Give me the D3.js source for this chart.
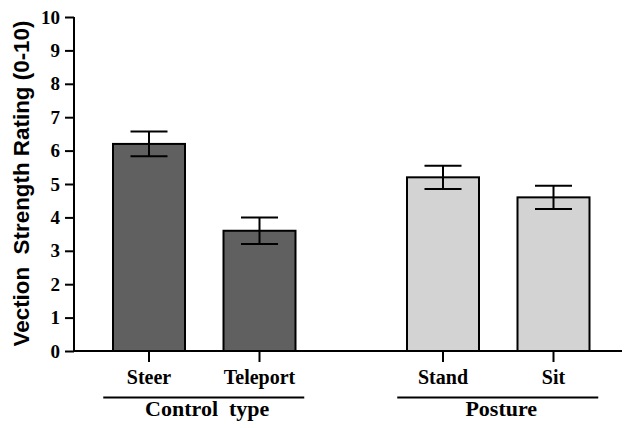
<!DOCTYPE html>
<html>
<head>
<meta charset="utf-8">
<script src="https://cdn.jsdelivr.net/npm/d3@7"></script>
<style>
  html, body { margin: 0; padding: 0; background: #fff; }
  svg { display: block; }
</style>
</head>
<body>
<svg id="chart" width="625" height="428"></svg>
<script>
// ---- data ----
const groups = ["Control type", "Posture"];
const categories = ["Steer", "Teleport", "Stand", "Sit"];
const categoryGroup = ["Control type", "Control type", "Posture", "Posture"];
const means = [6.2, 3.6, 5.2, 4.6];
const errors = [0.37, 0.4, 0.35, 0.35];
const barColors = ["#606060", "#606060", "#d3d3d3", "#d3d3d3"];
const yTicks = [0, 1, 2, 3, 4, 5, 6, 7, 8, 9, 10];
const yTitle = "Vection\u00a0\u00a0Strength Rating (0-10)";

// ---- layout ----
const SERIF = "Liberation Serif";
const SANS = "Liberation Sans";
const svg = d3.select("#chart");
const yAxisX = 74, baseY = 351, topY = 17, axisRight = 622;

const y = d3.scaleLinear().domain([0, 10]).range([baseY, topY]);
const xGroup = d3.scaleBand().domain(groups).range([57.25, 645.25]);
const xInner = d3.scalePoint().domain([0, 1]).range([-55.25, 55.25]);
const barW = 72, capW = 37;

const data = categories.map((c, i) => ({
  cat: c, group: categoryGroup[i], mean: means[i], err: errors[i], color: barColors[i],
  idx: categoryGroup.slice(0, i).filter(g => g === categoryGroup[i]).length
}));
const cx = d => xGroup(d.group) + xGroup.bandwidth() / 2 + xInner(d.idx);

// bars
svg.selectAll("rect.bar").data(data).enter().append("rect")
  .attr("x", d => cx(d) - barW / 2)
  .attr("y", d => y(d.mean))
  .attr("width", barW)
  .attr("height", d => y(0) - y(d.mean))
  .attr("fill", d => d.color)
  .attr("stroke", "#000")
  .attr("stroke-width", 2);

// error bars
const eb = svg.selectAll("g.err").data(data).enter().append("g")
  .attr("stroke", "#000").attr("stroke-width", 2);
eb.append("line").attr("x1", cx).attr("x2", cx)
  .attr("y1", d => y(d.mean + d.err)).attr("y2", d => y(d.mean - d.err));
eb.append("line").attr("x1", d => cx(d) - capW / 2).attr("x2", d => cx(d) + capW / 2)
  .attr("y1", d => y(d.mean + d.err)).attr("y2", d => y(d.mean + d.err));
eb.append("line").attr("x1", d => cx(d) - capW / 2).attr("x2", d => cx(d) + capW / 2)
  .attr("y1", d => y(d.mean - d.err)).attr("y2", d => y(d.mean - d.err));

// y axis
const yAxis = d3.axisLeft(y).tickValues(yTicks).tickSize(9).tickPadding(5).tickSizeOuter(0);
const gy = svg.append("g").attr("transform", `translate(${yAxisX},0)`).call(yAxis)
  .attr("font-family", SERIF).attr("font-size", 19).attr("font-weight", "bold");
gy.select(".domain").attr("stroke-width", 2).attr("d", `M0,${baseY}V${topY}`);
gy.selectAll(".tick line").attr("stroke-width", 2);
gy.selectAll(".tick text").attr("fill", "#000");

// x axis line
svg.append("line").attr("x1", yAxisX - 1).attr("x2", axisRight)
  .attr("y1", baseY).attr("y2", baseY).attr("stroke", "#000").attr("stroke-width", 2);

// x ticks and labels
svg.selectAll("line.xt").data(data).enter().append("line")
  .attr("x1", cx).attr("x2", cx).attr("y1", baseY).attr("y2", baseY + 11)
  .attr("stroke", "#000").attr("stroke-width", 2);
svg.selectAll("text.xl").data(data).enter().append("text")
  .attr("x", cx).attr("y", 384).attr("text-anchor", "middle")
  .attr("font-family", SERIF).attr("font-weight", "bold").attr("font-size", 20)
  .text(d => d.cat);

// group lines and labels
const gc = g => xGroup(g) + xGroup.bandwidth() / 2;
svg.selectAll("line.gl").data(groups).enter().append("line")
  .attr("x1", g => gc(g) - 101).attr("x2", g => gc(g) + 100)
  .attr("y1", 397.5).attr("y2", 397.5).attr("stroke", "#000").attr("stroke-width", 2);
svg.selectAll("text.gt").data(groups).enter().append("text")
  .attr("x", g => gc(g) + 3).attr("y", 415.5).attr("text-anchor", "middle")
  .attr("font-family", SERIF).attr("font-weight", "bold").attr("font-size", 22)
  .text(g => g.replace(" ", "\u00a0\u00a0"));

// y title
svg.append("text")
  .attr("transform", `translate(29,${(20 + 347) / 2}) rotate(-90)`)
  .attr("text-anchor", "middle")
  .attr("font-family", SANS).attr("font-weight", "bold").attr("font-size", 22.4)
  .text(yTitle);
</script>
</body>
</html>
